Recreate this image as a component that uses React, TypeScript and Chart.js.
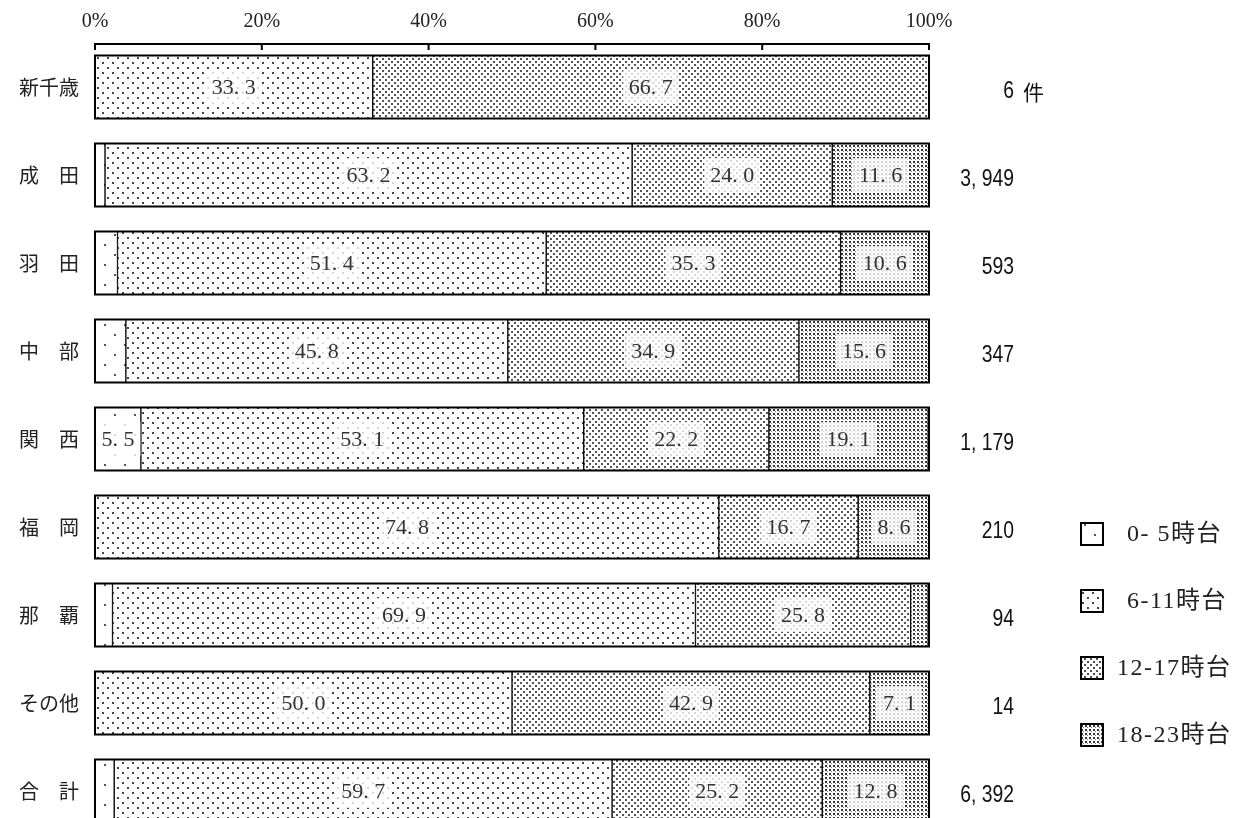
import React, { useEffect, useRef } from 'react';
import { Chart, registerables } from 'chart.js';
Chart.register(...registerables);

const categories = ['新千歳', '成　田', '羽　田', '中　部', '関　西', '福　岡', '那　覇', 'その他', '合　計'];
const seriesNames = ['0- 5時台', '6-11時台', '12-17時台', '18-23時台'];
const h00_05 = [0, 1.2, 2.7, 3.7, 5.5, 0, 2.1, 0, 2.3];
const h06_11 = [33.3, 63.2, 51.4, 45.8, 53.1, 74.8, 69.9, 50.0, 59.7];
const h12_17 = [66.7, 24.0, 35.3, 34.9, 22.2, 16.7, 25.8, 42.9, 25.2];
const h18_23 = [0, 11.6, 10.6, 15.6, 19.1, 8.6, 2.1, 7.1, 12.8];
const counts = [6, 3949, 593, 347, 1179, 210, 94, 14, 6392];
const countUnit = '件';
const xTicks = [0, 20, 40, 60, 80, 100];

const series = [h00_05, h06_11, h12_17, h18_23];
const BAR = 63;

function makePattern(ctx: CanvasRenderingContext2D, w: number, h: number, dots: [number, number, number, string][]) {
  const c = document.createElement('canvas');
  c.width = w;
  c.height = h;
  const g = c.getContext('2d')!;
  g.fillStyle = '#fff';
  g.fillRect(0, 0, w, h);
  dots.forEach(([x, y, s, col]) => {
    g.fillStyle = col;
    g.fillRect(x, y, s, s);
  });
  return ctx.createPattern(c, 'repeat')!;
}

const fmtPct = (v: number) => v.toFixed(1).replace('.', '. ');
const fmtCount = (n: number) => n.toLocaleString('en-US').replace(/,/g, ', ');

export default function App() {
  const ref = useRef<HTMLCanvasElement>(null);
  useEffect(() => {
    const canvas = ref.current!;
    const ctx0 = canvas.getContext('2d')!;
    const patterns = [
      makePattern(ctx0, 20, 20, [[4, 4, 2, '#555'], [14, 14, 2, '#555']]),
      makePattern(ctx0, 10, 10, [[2, 2, 2, '#444'], [7, 7, 2, '#444']]),
      makePattern(ctx0, 6, 6, [[1, 1, 2, '#555'], [4, 4, 2, '#555']]),
      makePattern(ctx0, 4, 4, [[1, 1, 2, '#3a3a3a'], [3, 3, 1, '#777']]),
    ];

    const custom = {
      id: 'custom',
      afterDatasetsDraw(chart: any) {
        const { ctx, scales } = chart;
        const x = scales.x;
        const y = scales.y;
        const x0 = x.getPixelForValue(0);
        const x1 = x.getPixelForValue(100);
        ctx.save();
        // data labels
        chart.data.datasets.forEach((ds: any, di: number) => {
          const meta = chart.getDatasetMeta(di);
          meta.data.forEach((el: any, i: number) => {
            const v = series[di][i];
            if (!v || v < 5) return;
            const p = el.getProps(['x', 'y', 'base'], true);
            const cx = (p.x + p.base) / 2;
            const text = fmtPct(v);
            ctx.font = '22px "Liberation Serif", serif';
            const w = ctx.measureText(text).width;
            ctx.fillStyle = 'rgba(255,255,255,0.78)';
            ctx.fillRect(cx - w / 2 - 6, p.y - 17, w + 12, 34);
            ctx.fillStyle = '#333';
            ctx.textAlign = 'center';
            ctx.textBaseline = 'middle';
            ctx.fillText(text, cx, p.y + 1);
          });
        });
        // outlines
        ctx.strokeStyle = '#000';
        ctx.lineWidth = 2;
        categories.forEach((_, i) => {
          const cy = y.getPixelForValue(i);
          ctx.strokeRect(x0, cy - BAR / 2, x1 - x0, BAR);
        });
        // top axis line with inward ticks
        ctx.beginPath();
        ctx.moveTo(x0 - 1, 44);
        ctx.lineTo(x1 + 1, 44);
        xTicks.forEach((t) => {
          const tx = x.getPixelForValue(t);
          ctx.moveTo(tx, 44);
          ctx.lineTo(tx, 50);
        });
        ctx.stroke();
        // counts (narrow gothic look)
        ctx.fillStyle = '#111';
        ctx.textBaseline = 'middle';
        counts.forEach((n, i) => {
          const cy = y.getPixelForValue(i) + 5;
          ctx.save();
          ctx.translate(1014, cy);
          ctx.scale(0.84, 1);
          ctx.font = '23px "Liberation Sans", sans-serif';
          ctx.textAlign = 'right';
          ctx.fillText(fmtCount(n), 0, 0);
          ctx.restore();
          if (i === 0) {
            ctx.font = '21px "Noto Sans CJK JP", sans-serif';
            ctx.textAlign = 'left';
            ctx.fillText(countUnit, 1023, cy);
          }
        });
        // legend
        const legendY = [534, 601, 668, 735];
        seriesNames.forEach((name, i) => {
          const cy = legendY[i];
          ctx.fillStyle = patterns[i];
          ctx.fillRect(1081, cy - 11, 22, 22);
          ctx.strokeStyle = '#000';
          ctx.lineWidth = 2;
          ctx.strokeRect(1081, cy - 11, 22, 22);
          ctx.fillStyle = '#222';
          ctx.font = '24px "Liberation Serif", "Noto Sans CJK JP", serif';
          (ctx as any).letterSpacing = '1.5px';
          ctx.textAlign = 'left';
          ctx.textBaseline = 'middle';
          const tx = /^\d-/.test(name) ? 1127 : 1117;
          ctx.fillText(name, tx, cy + 1);
          (ctx as any).letterSpacing = '0px';
        });
        ctx.restore();
      },
    };

    const chart = new Chart(canvas, {
      type: 'bar',
      data: {
        labels: categories,
        datasets: series.map((arr, i) => ({
          label: seriesNames[i],
          data: arr.map((v) => (v === 0 ? null : v)),
          backgroundColor: patterns[i],
          borderColor: '#000',
          borderWidth: { left: 1, right: 1, top: 0, bottom: 0 },
          borderSkipped: false,
          barThickness: BAR,
        })),
      },
      options: {
        indexAxis: 'y',
        animation: false,
        responsive: false,
        maintainAspectRatio: false,
        layout: { padding: { left: 0, right: 314, top: 0, bottom: 0 } },
        plugins: { legend: { display: false }, tooltip: { enabled: false } },
        scales: {
          x: {
            type: 'linear',
            position: 'top',
            stacked: true,
            min: 0,
            max: 100,
            grid: { display: false, drawTicks: false },
            border: { display: false },
            ticks: {
              stepSize: 20,
              padding: 9,
              color: '#222',
              font: { family: '"Liberation Serif", serif', size: 20 },
              callback: (v: any) => v + '%',
            },
            afterFit: (s: any) => {
              s.height = 43;
              s.paddingLeft = 0;
              s.paddingRight = 0;
            },
          },
          y: {
            type: 'category',
            stacked: true,
            grid: { display: false, drawTicks: false },
            border: { display: false },
            ticks: {
              padding: 16,
              color: '#222',
              font: { family: '"Noto Sans CJK JP", sans-serif', size: 20 },
            },
            afterFit: (s: any) => {
              s.width = 95;
              s.paddingTop = 0;
              s.paddingBottom = 0;
            },
          },
        },
      },
      plugins: [custom],
    });
    return () => chart.destroy();
  }, []);

  return (
    <div style={{ position: 'fixed', left: 0, top: 0, width: 1243, height: 835, background: '#fff' }}>
      <canvas ref={ref} width={1243} height={835} style={{ display: 'block', width: 1243, height: 835 }} />
    </div>
  );
}
